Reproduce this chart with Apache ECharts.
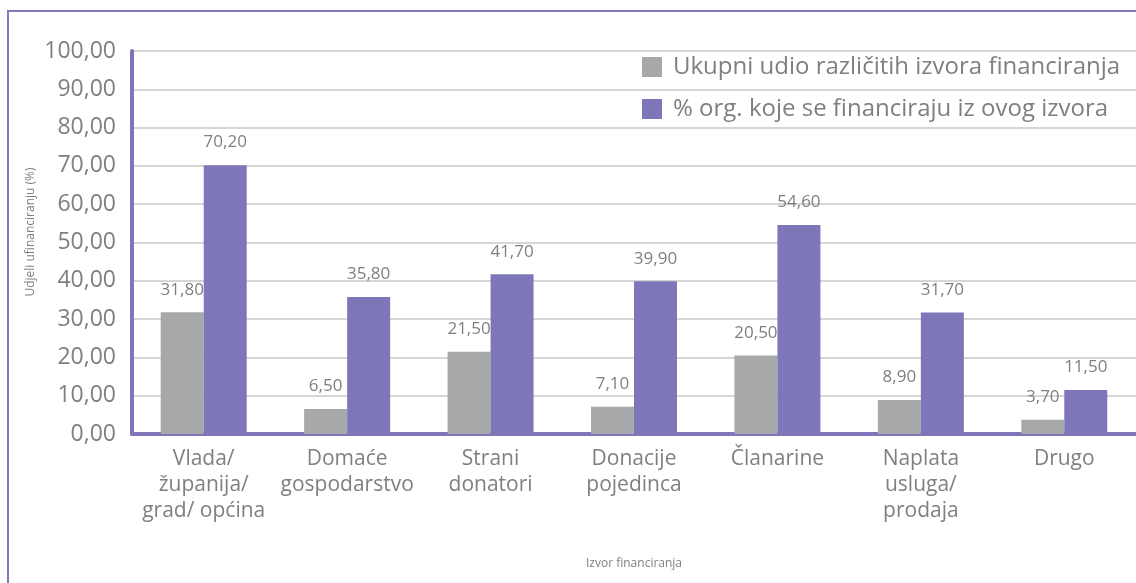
<!DOCTYPE html>
<html>
<head>
<meta charset="utf-8">
<script src="https://cdn.jsdelivr.net/npm/echarts@6/dist/echarts.min.js"></script>
<style>
  html, body { margin: 0; padding: 0; background: #fff; }
  #main { width: 1136px; height: 583px; }
</style>
</head>
<body>
<div id="main"></div>
<script>
// kategorije i vrijednosti
var kategorije = ['Vlada/\nžupanija/\ngrad/ općina', 'Domaće\ngospodarstvo', 'Strani\ndonatori', 'Donacije\npojedinca', 'Članarine', 'Naplata\nusluga/\nprodaja', 'Drugo'];
var ukupniUdio = [31.8, 6.5, 21.5, 7.1, 20.5, 8.9, 3.7];
var postotakOrg = [70.2, 35.8, 41.7, 39.9, 54.6, 31.7, 11.5];
var nazivi = ['Ukupni udio različitih izvora financiranja', '% org. koje se financiraju iz ovog izvora'];

var font = 'Open Sans';
var siva = '#7f7f7f';

function zarez(v) {
    return v.toFixed(2).replace('.', ',');
}

var myChart = echarts.init(document.getElementById('main'));

var option = {
    animation: false,
    textStyle: { fontFamily: font },
    graphic: [
        {
            type: 'rect',
            shape: { x: 8, y: 11, width: 1300, height: 700 },
            style: { fill: 'none', stroke: '#8079bb', lineWidth: 2 }
        },
        {
            type: 'text',
            x: 31,
            y: 232,
            rotation: Math.PI / 2,
            style: {
                text: 'Udjeli ufinanciranju (%)',
                fill: siva,
                font: '12px "Open Sans"',
                align: 'center',
                verticalAlign: 'middle'
            }
        }
    ],
    legend: {
        data: nazivi,
        orient: 'vertical',
        left: 637,
        top: 50,
        icon: 'rect',
        itemWidth: 20,
        itemHeight: 20,
        itemGap: 18,
        textStyle: { fontFamily: font, fontSize: 24, color: siva, padding: [0, 0, 0, 6] }
    },
    grid: {
        left: 132,
        right: -4,
        top: 51,
        bottom: 149,
        containLabel: false
    },
    xAxis: {
        type: 'category',
        data: kategorije,
        name: 'Izvor financiranja',
        nameLocation: 'middle',
        nameGap: 124,
        nameTextStyle: { fontFamily: font, fontSize: 12, color: siva },
        axisLine: { lineStyle: { color: '#7d77b9', width: 4 } },
        axisTick: { show: false },
        axisLabel: { fontFamily: font, fontSize: 21, color: siva, lineHeight: 26, margin: 12, interval: 0 }
    },
    yAxis: {
        type: 'value',
        min: 0,
        max: 100,
        interval: 10,
        axisLine: { show: true, lineStyle: { color: '#7d77b9', width: 4 } },
        axisTick: { show: false },
        axisLabel: {
            fontFamily: font,
            fontSize: 23,
            color: siva,
            margin: 16,
            formatter: function (v) { return zarez(v); }
        },
        splitLine: { lineStyle: { color: '#d6d6d6', width: 2 } }
    },
    series: [
        {
            name: nazivi[0],
            type: 'bar',
            data: ukupniUdio,
            barWidth: 43,
            barGap: '0%',
            itemStyle: { color: '#a7a8aa' },
            label: {
                show: true,
                position: 'top',
                distance: 14,
                fontFamily: font,
                fontSize: 17,
                color: siva,
                formatter: function (p) { return zarez(p.value); }
            }
        },
        {
            name: nazivi[1],
            type: 'bar',
            data: postotakOrg,
            barWidth: 43,
            barGap: '0%',
            itemStyle: { color: '#7d77b9' },
            label: {
                show: true,
                position: 'top',
                distance: 14,
                fontFamily: font,
                fontSize: 17,
                color: siva,
                formatter: function (p) { return zarez(p.value); }
            }
        }
    ]
};

myChart.setOption(option);
</script>
</body>
</html>
